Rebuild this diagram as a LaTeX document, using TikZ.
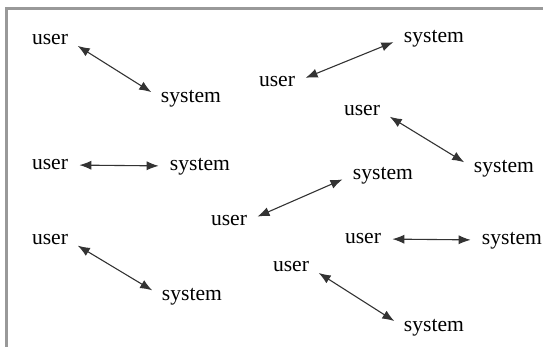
\documentclass[tikz,border=0pt]{standalone}
\usepackage{fontspec}
\setmainfont{Liberation Serif}
\usetikzlibrary{arrows.meta}
\tikzset{
  word/.style={inner sep=0pt,anchor=mid,font=\fontsize{10.8}{13}\selectfont},
  link/.style={{Latex[length=6pt,width=4.6pt]}-{Latex[length=6pt,width=4.6pt]},
               black!80,line width=0.55pt,shorten <=5.5pt,shorten >=5.5pt}
}
\begin{document}
\begin{tikzpicture}[x=0.5pt,y=-0.5pt]
\useasboundingbox (0,0) rectangle (543,347);
\draw [black!40,line width=1.2pt] (6.5,347) -- (6.5,8.5) -- (543,8.5);

% left column
\node[word] (u1) at (50,40)  {user};
\node[word] (s1) at (191,98) {system};
\node[word] (u2) at (50,165) {user};
\node[word] (s2) at (200,166) {system};
\node[word] (u3) at (50,240) {user};
\node[word] (s3) at (192,296) {system};

% right part
\node[word] (u4) at (277,82)  {user};
\node[word] (s4) at (434,38)  {system};
\node[word] (u5) at (362,111) {user};
\node[word] (s5) at (504,168) {system};
\node[word] (u6) at (229,221) {user};
\node[word] (s6) at (383,175) {system};
\node[word] (u7) at (363,239) {user};
\node[word] (s7) at (512,240) {system};
\node[word] (u8) at (291,267) {user};
\node[word] (s8) at (434,327) {system};

\foreach \i in {1,...,8}
   \draw [link] (u\i.mid east) -- (s\i.mid west);
\end{tikzpicture}
\end{document}
